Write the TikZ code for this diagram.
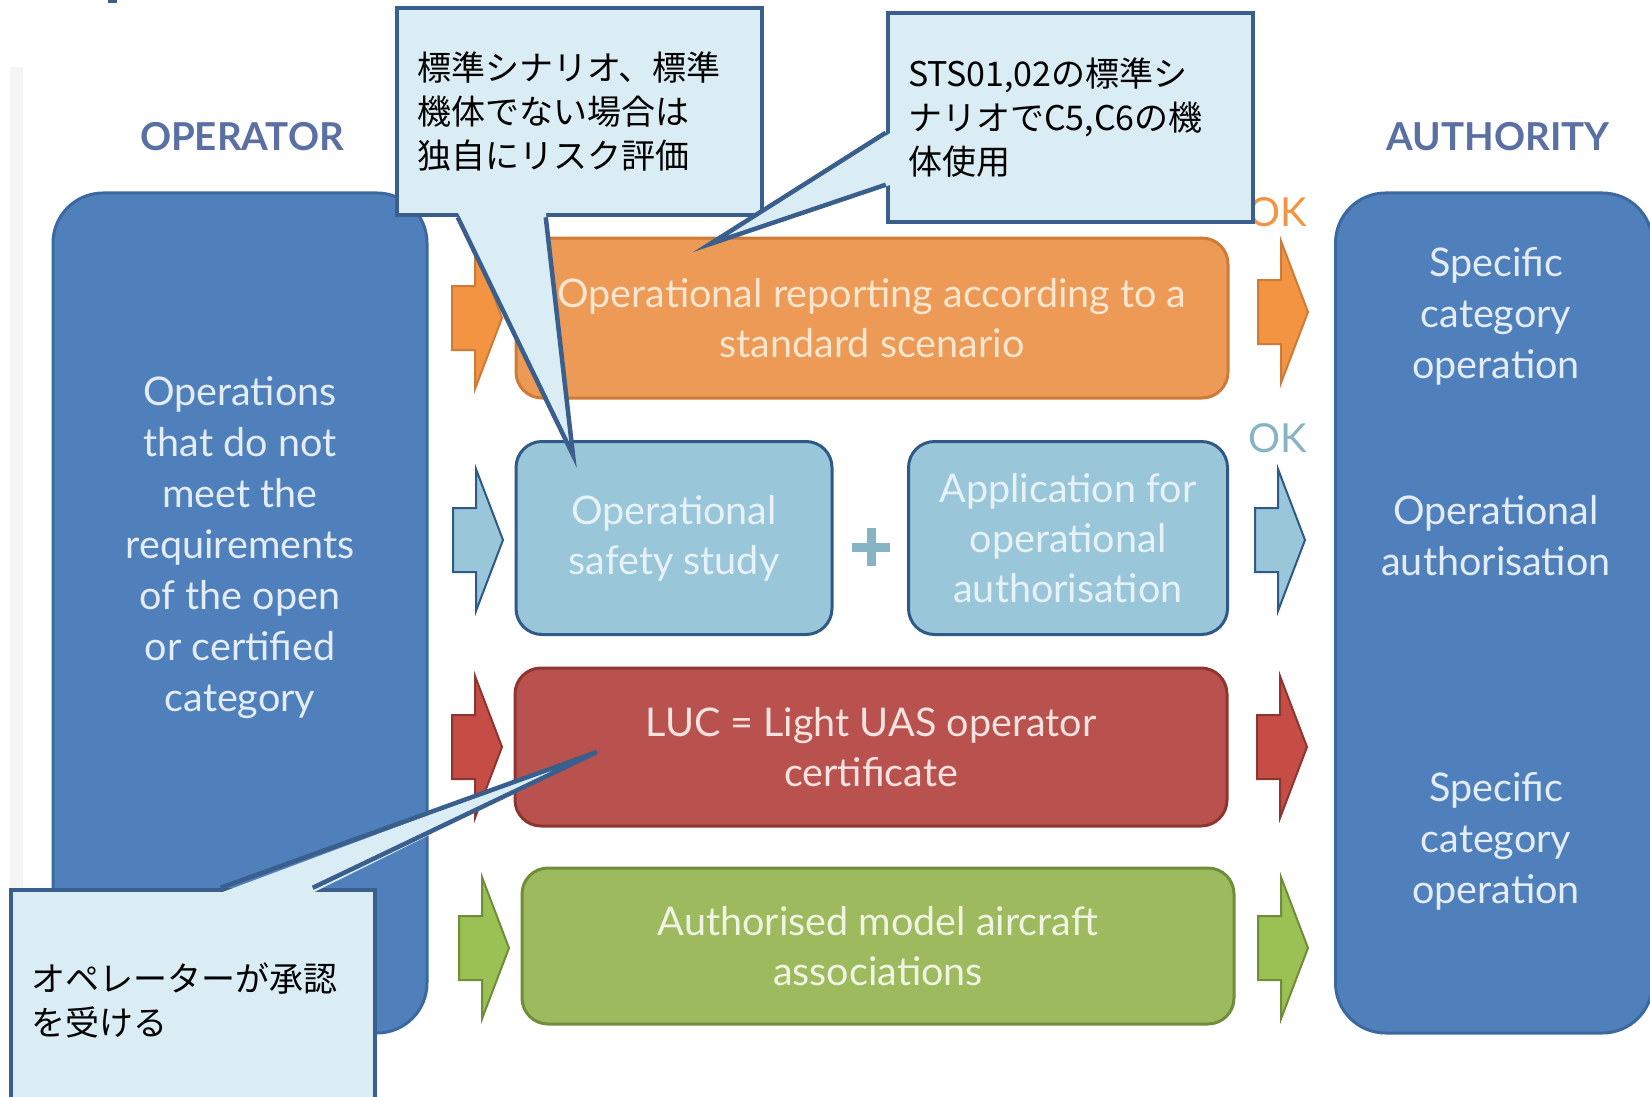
\documentclass[tikz,border=0pt]{standalone}
\usepackage{fontspec}
\setmainfont{Lato}
\newfontfamily\jafont{Noto Sans CJK JP}
\usepackage{tikz}
\usetikzlibrary{calc}
\usetikzlibrary{positioning}

\definecolor{bigFill}{HTML}{5080BC}
\definecolor{bigLine}{HTML}{3C68A0}
\definecolor{bigInk}{HTML}{E3ECF7}
\definecolor{headInk}{HTML}{5A70A2}
\definecolor{orFill}{HTML}{EC9A55}
\definecolor{orLine}{HTML}{CF7B38}
\definecolor{orInk}{HTML}{FCE6CF}
\definecolor{orArrow}{HTML}{F39442}
\definecolor{lbFill}{HTML}{99C6D9}
\definecolor{lbLine}{HTML}{2F5A88}
\definecolor{lbInk}{HTML}{E6F2F7}
\definecolor{lbOk}{HTML}{86B4C4}
\definecolor{rdFill}{HTML}{B9524E}
\definecolor{rdLine}{HTML}{8E3530}
\definecolor{rdInk}{HTML}{F6E2DF}
\definecolor{rdArrow}{HTML}{C64C46}
\definecolor{gnFill}{HTML}{9DBA5E}
\definecolor{gnLine}{HTML}{6F8D3B}
\definecolor{gnInk}{HTML}{F0F4E2}
\definecolor{gnArrow}{HTML}{9BC053}
\definecolor{calFill}{HTML}{DBEDF4}
\definecolor{calLine}{HTML}{3A5F8C}

\begin{document}
\begin{tikzpicture}[x=1pt,y=-1pt]
\tikzset{
  bigBox/.style={
    draw=bigLine, line width=3pt, fill=bigFill,
    rounded corners=50pt, minimum width=374pt, minimum height=840pt
    },
  bigText/.style={
    text=bigInk, align=center, font=\fontsize{39.5}{51}\selectfont
    },
  headText/.style={
    text=headInk, font=\bfseries\fontsize{38.5}{40}\selectfont
    },
  stepBox/.style={
    line width=3pt, rounded corners=26pt, align=center,
    font=\fontsize{39.5}{50}\selectfont
    },
  okText/.style={
    font=\fontsize{40}{40}\selectfont
    },
  callBox/.style={
    draw=calLine, fill=calFill, line width=4.5pt, align=left,
    inner xsep=20pt, text=black, font=\jafont\fontsize{34}{44}\selectfont
    },
  callEdge/.style={
    draw=calLine, line width=4.5pt, line join=miter
    },
  blockArrow/.pic={
    \path[pic actions, line width=2pt, line join=miter]
      (-50,-32) -- (-27,-32) -- (-27,-71) -- (0,0) -- (-27,71)
      -- (-27,32) -- (-50,32) -- cycle;
    }
}
\useasboundingbox (0,0) rectangle (1650,1097);

    % page rests
    \fill[black!4] (10,67) rectangle (23,1097);
    \fill[calLine] (108,0) rectangle (117,3);

    % headings
    \node (opHead)[headText] at (242,137) {OPERATOR};
    \node (auHead)[headText] at (1498,137) {AUTHORITY};

    % operator and authority
    \node (opBox)[bigBox] at (240,613) {};
    \node (opText)[bigText] at (240,548) {Operations\\that do not\\meet the\\requirements\\of the open\\or certified\\category};
    \node (auBox)[bigBox, minimum width=317pt] at (1494,613) {};
    \node (auTop)[bigText] at (1496,316) {Specific\\category\\operation};
    \node (auMid)[bigText] at (1496,536) {Operational\\authorisation};
    \node (auLow)[bigText] at (1496,841) {Specific\\category\\operation};

    % the four routes
    \node (report)[stepBox, draw=orLine, fill=orFill, text=orInk,
      minimum width=712pt, minimum height=160pt] at (872,318)
      {Operational reporting according to a\\standard scenario};
    \node (safety)[stepBox, draw=lbLine, fill=lbFill, text=lbInk,
      minimum width=316pt, minimum height=193pt] at (674,538)
      {Operational\\safety study};
    \node (apply)[stepBox, draw=lbLine, fill=lbFill, text=lbInk,
      minimum width=319pt, minimum height=193pt] at (1068,538)
      {Application for\\operational\\authorisation};
    \node (luc)[stepBox, draw=rdLine, fill=rdFill, text=rdInk,
      minimum width=712pt, minimum height=158pt] at (871,747)
      {LUC = Light UAS operator\\certificate};
    \node (model)[stepBox, draw=gnLine, fill=gnFill, text=gnInk,
      minimum width=712pt, minimum height=156pt] at (878,946)
      {Authorised model aircraft\\associations};

    \draw[lbOk, line width=9pt] (852,547) -- (890,547) (871,528) -- (871,566);

    % arrows in and out
    \pic[fill=orArrow, draw=orLine] at (502,318) {blockArrow};
    \pic[fill=lbFill, draw=lbLine] at (503,540) {blockArrow};
    \pic[fill=rdArrow, draw=rdLine] at (502,747) {blockArrow};
    \pic[fill=gnArrow, draw=gnLine] at (509,948) {blockArrow};
    \pic[fill=orArrow, draw=orLine] at (1308,312) {blockArrow};
    \pic[fill=lbFill, draw=lbLine] at (1305,540) {blockArrow};
    \pic[fill=rdArrow, draw=rdLine] at (1307,747) {blockArrow};
    \pic[fill=gnArrow, draw=gnLine] at (1308,948) {blockArrow};

    \node (okA)[okText, text=orArrow] at (1278,212) {OK};
    \node (okB)[okText, text=lbOk] at (1278,438) {OK};

    % callouts
    \node (calA)[callBox, text width=325pt, minimum height=207pt] at (579.5,111.5)
      {標準シナリオ、標準\\機体でない場合は\\独自にリスク評価};
    \coordinate (tipA) at (573,455);
    \fill[calFill] ($(calA.south west)+(63,-5)$) -- (tipA) -- ($(calA.south west)+(151,-5)$) -- cycle;
    \draw[callEdge] ($(calA.south west)+(63,0)$) -- (tipA) -- ($(calA.south west)+(151,0)$);

    \node (calB)[callBox, text width=325pt, minimum height=209pt] at (1070.5,117.5)
      {STS01,02の標準シ\\ナリオでC5,C6の機\\体使用};
    \coordinate (tipB) at (710,244);
    \fill[calFill] ($(calB.north west)+(5,122)$) -- (tipB) -- ($(calB.north west)+(5,174)$) -- cycle;
    \draw[callEdge] ($(calB.north west)+(0,122)$) -- (tipB) -- ($(calB.north west)+(0,174)$);

    \node (calC)[callBox, text width=324pt, minimum height=220pt] at (193,1000)
      {オペレーターが承認\\を受ける};
    \coordinate (tipC) at (597,752);
    \fill[calFill] ($(calC.north west)+(212,5)$) -- (tipC) -- ($(calC.north west)+(304,5)$) -- cycle;
    \draw[callEdge] ($(calC.north west)+(212,0)$) -- (tipC) -- ($(calC.north west)+(304,0)$);

\end{tikzpicture}
\end{document}
